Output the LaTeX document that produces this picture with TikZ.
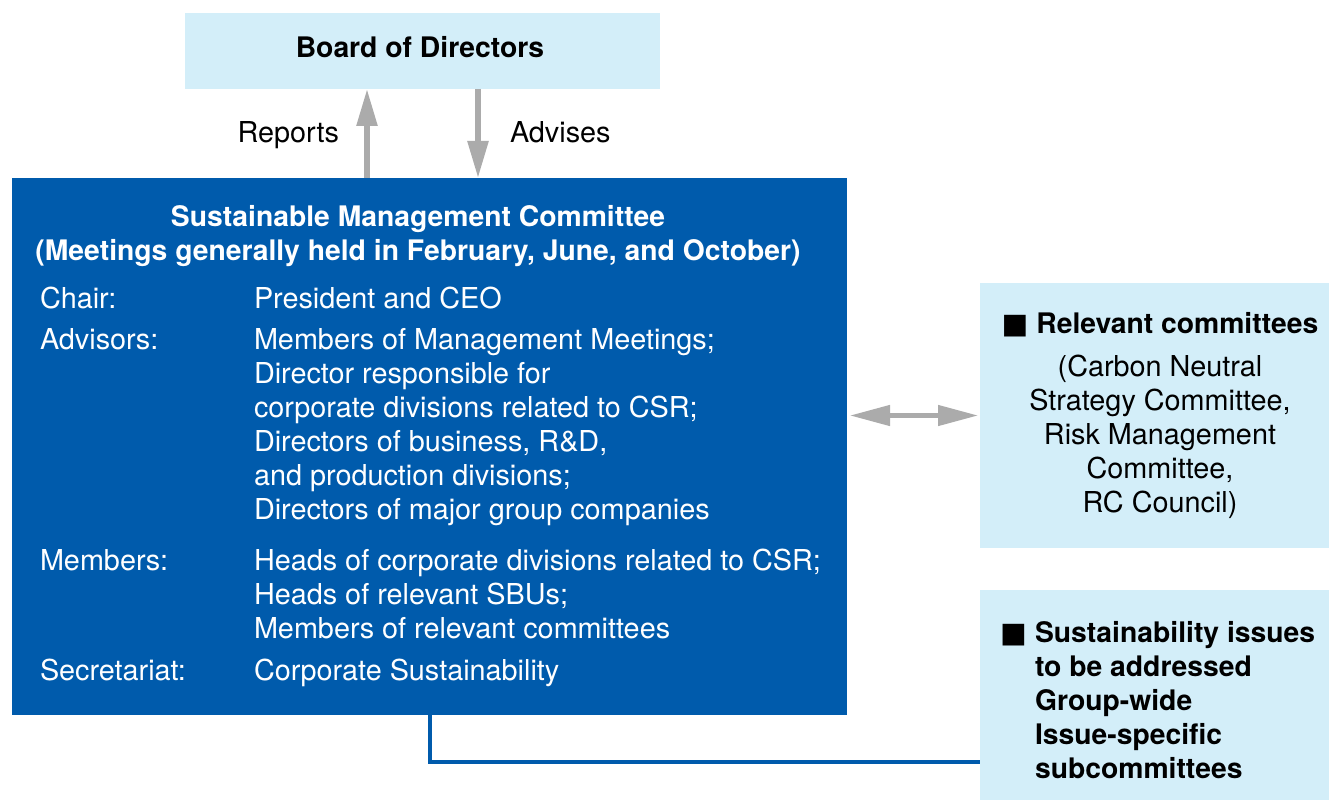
\documentclass[tikz,border=0pt]{standalone}
\usepackage{fontspec}
\setmainfont{TeX Gyre Heros}
\newfontfamily\symfont{DejaVu Sans}
\usetikzlibrary{arrows.meta}

\definecolor{smcblue}{HTML}{005BAC}
\definecolor{paleblue}{HTML}{D3EEF9}
\definecolor{arrowgray}{HTML}{ABABAB}
\newcommand{\sqmark}{{\symfont ■}}

\begin{document}
\begin{tikzpicture}[x=1pt,y=-1pt,
  bluebox/.style={rectangle, fill=smcblue, draw=none, inner sep=0pt, outer sep=0pt},
  palebox/.style={rectangle, fill=paleblue, draw=none, inner sep=0pt, outer sep=0pt},
  txt/.style={inner sep=0pt, outer sep=0pt, font=\fontsize{28.8}{34}\selectfont},
  boldtxt/.style={txt, font=\fontsize{28.3}{34}\selectfont\bfseries},
  flowarrow/.style={draw=arrowgray, line width=5.5pt, -{Triangle[length=37pt,width=20pt]}},
  linkline/.style={draw=smcblue, line width=4.5pt}]
\useasboundingbox (0,0) rectangle (1329,802);

% boxes
\node[palebox, minimum width=475pt, minimum height=76pt] (board) at (422.5,51) {};
\node[bluebox, minimum width=835pt, minimum height=537pt] (smc) at (429.5,446.5) {};
\node[palebox, minimum width=349pt, minimum height=265pt] (relcom) at (1154.5,415.5) {};
\node[palebox, minimum width=349pt, minimum height=210pt] (subcom) at (1154.5,695) {};

\node[boldtxt, anchor=base] (boardtxt) at (420,58) {Board of Directors};

% reporting lines
\draw[flowarrow] (367,178) -- (367,89);
\draw[flowarrow] (478,89) -- (478,178);
\node[txt, anchor=base east] (reports) at (339,143) {Reports};
\node[txt, anchor=base west] (advises) at (510,143) {Advises};

% committee contents (base = last line)
\node[boldtxt, text=white, anchor=base, align=center] (smctitle) at (418,260)
  {Sustainable Management Committee\\(Meetings generally held in February, June, and October)};
\node[txt, text=white, anchor=base west] (chair) at (40,308) {Chair:};
\node[txt, text=white, anchor=base west] (chairval) at (254,308) {President and CEO};
\node[txt, text=white, anchor=base west] (advisors) at (40,349) {Advisors:};
\node[txt, text=white, anchor=base west, align=left] (advisorsval) at (254,519)
  {Members of Management Meetings;\\Director responsible for\\corporate divisions related to CSR;\\Directors of business, R\&D,\\and production divisions;\\Directors of major group companies};
\node[txt, text=white, anchor=base west] (members) at (40,570) {Members:};
\node[txt, text=white, anchor=base west, align=left] (membersval) at (254,638)
  {Heads of corporate divisions related to CSR;\\Heads of relevant SBUs;\\Members of relevant committees};
\node[txt, text=white, anchor=base west] (secretariat) at (40,680) {Secretariat:};
\node[txt, text=white, anchor=base west] (secretariatval) at (254,680) {Corporate Sustainability};

% relevant committees
\node[boldtxt, anchor=base] (relhead) at (1160,333) {\sqmark\ Relevant committees};
\node[txt, anchor=base, align=center] (relbody) at (1160,512)
  {(Carbon Neutral\\Strategy Committee,\\Risk Management\\Committee,\\RC Council)};

% subcommittees
\node[boldtxt, anchor=base west] (subbullet) at (1000,642) {\sqmark};
\node[boldtxt, anchor=base west, align=left] (subtxt) at (1035,778)
  {Sustainability issues\\to be addressed\\Group-wide\\Issue-specific\\subcommittees};

% links
\draw[draw=arrowgray, line width=4.5pt, {Triangle[length=40pt,width=20pt]}-{Triangle[length=40pt,width=20pt]}]
  ([xshift=3pt]smc.east |- relcom.west) -- ([xshift=-2pt]relcom.west);
\coordinate (elbow) at (430,762);
\draw[linkline] (smc.south -| elbow) -- (elbow) -- (elbow -| subcom.west);
\end{tikzpicture}
\end{document}
